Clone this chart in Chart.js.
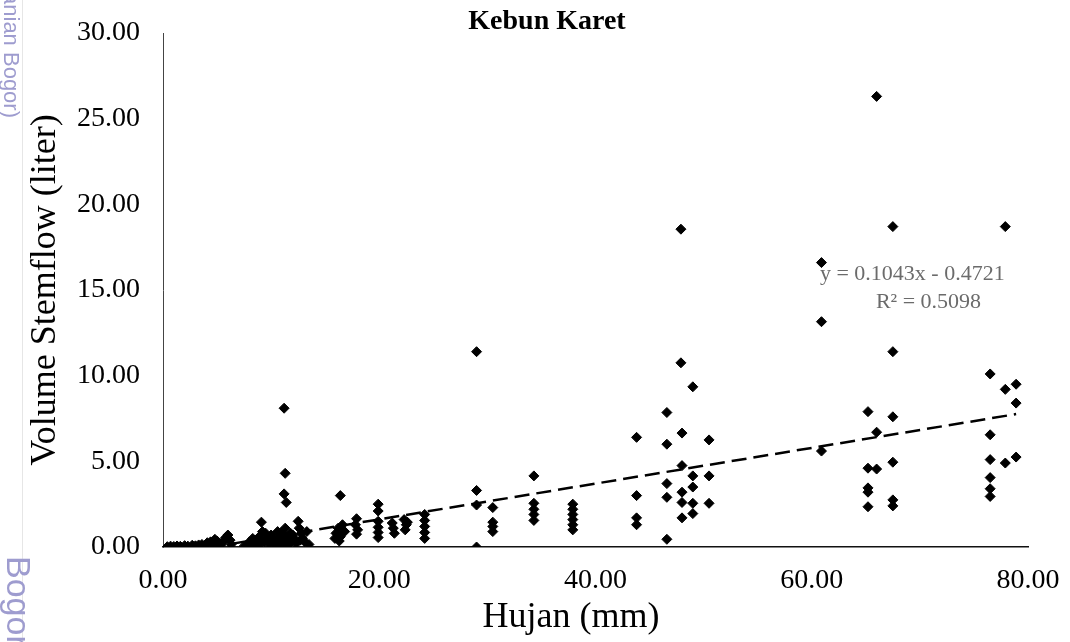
<!DOCTYPE html>
<html>
<head>
    <title>Kebun Karet - Stemflow vs Hujan</title>
    <script src="https://cdn.jsdelivr.net/npm/chart.js"></script>
    <style>
        body { margin: 0; background: #fff; }
        #wrap { width: 1070px; height: 642px; }
    </style>
</head>
<body>
    <div id="wrap"><canvas id="stemflowChart"></canvas></div>
    <script>
        // rainfall (mm) and stemflow volume (liter)
        const hujan = [
            0.4, 0.7, 1.0, 1.3, 1.6, 2.0, 2.3, 2.7, 3.0, 3.3, 3.6, 3.9, 4.1, 4.4, 4.6, 4.8, 5.0, 5.3, 5.6, 5.8, 6.0, 6.2, 6.3,
            7.5, 7.9, 8.2, 8.5, 8.7, 8.9, 9.1, 9.2, 9.4, 9.6, 9.8, 10.0, 10.3, 10.5, 10.7, 10.9, 11.0,
            11.2, 11.3, 11.2, 11.4, 11.3, 11.5, 11.6, 11.4, 11.8, 12.2, 12.5, 12.6, 12.8, 12.9, 13.1, 13.3, 13.5,
            8.0, 8.3, 9.0, 9.5, 10.1, 10.6, 11.1, 11.7, 12.0, 12.3, 12.7,
            16.4, 15.9, 16.0, 16.2, 16.4, 16.6, 16.3, 16.8,
            17.9, 17.8, 18.0, 17.9,
            19.9, 19.9, 19.9, 19.9, 19.9, 19.9,
            21.2, 21.3, 21.4,
            22.3, 22.5, 22.4, 22.6,
            24.2, 24.2, 24.2, 24.2, 24.2,
            29.0, 29.0, 29.0, 29.0,
            30.5, 30.5, 30.5, 30.5,
            34.3, 34.3, 34.3, 34.3, 34.3,
            37.9, 37.9, 37.9, 37.9, 37.9, 37.9,
            43.8, 43.8, 43.8, 43.8,
            46.6, 46.6, 46.6, 46.6, 46.6,
            47.9, 47.9, 48.0, 48.0, 48.0, 48.0, 48.0,
            49.0, 49.0, 49.0, 49.0, 49.0,
            50.5, 50.5, 50.5,
            60.9, 60.9, 60.9,
            65.2, 65.2, 65.2, 65.2, 65.2,
            66.0, 66.0, 66.0,
            67.5, 67.5, 67.5, 67.5, 67.5, 67.5,
            76.5, 76.5, 76.5, 76.5, 76.5, 76.5,
            77.9, 77.9, 77.9,
            78.9, 78.9, 78.9
        ];
        const stemflow = [
            0.02, 0.05, 0.03, 0.06, 0.04, 0.08, 0.05, 0.1, 0.07, 0.12, 0.15, 0.1, 0.25, 0.3, 0.18, 0.45, 0.35, 0.2, 0.3, 0.55, 0.7, 0.4, 0.15,
            0.05, 0.1, 0.2, 0.4, 0.15, 0.6, 1.45, 0.9, 0.3, 0.5, 0.2, 0.7, 0.4, 0.1, 0.55, 0.25, 0.85,
            8.1, 4.3, 3.1, 2.6, 1.1, 0.6, 0.3, 0.05, 0.8, 0.45, 1.5, 1.1, 0.8, 0.5, 0.3, 0.9, 0.15,
            0.3, 0.5, 0.2, 0.8, 0.3, 0.9, 0.4, 0.2, 0.7, 0.2, 0.4,
            3.0, 0.5, 0.8, 1.1, 0.6, 1.3, 0.35, 0.9,
            1.65, 1.3, 1.0, 0.75,
            2.5, 2.1, 1.5, 1.15, 0.85, 0.55,
            1.4, 1.1, 0.8,
            1.6, 1.3, 1.0, 1.45,
            1.9, 1.55, 1.2, 0.85, 0.5,
            11.4, 3.3, 2.45, 0.0,
            2.3, 1.45, 1.2, 0.9,
            4.15, 2.55, 2.2, 1.9, 1.55,
            2.5, 2.2, 1.9, 1.6, 1.3, 1.0,
            6.4, 3.0, 1.7, 1.3,
            7.85, 6.0, 3.7, 2.9, 0.45,
            18.55, 10.75, 6.65, 4.75, 3.2, 2.6, 1.7,
            9.35, 4.15, 3.5, 2.55, 1.95,
            6.25, 4.15, 2.55,
            16.6, 13.15, 5.6,
            7.9, 4.6, 3.45, 3.2, 2.35,
            26.3, 6.7, 4.55,
            18.7, 11.4, 7.6, 4.95, 2.75, 2.4,
            10.1, 6.55, 5.1, 4.05, 3.4, 2.95,
            18.7, 9.2, 4.9,
            9.5, 8.4, 5.25
        ];

        // linear trendline as printed on the figure
        const slope = 0.1043;
        const intercept = -0.4721;
        const rSquared = 0.5098;
        const trendX = [0.4, 78.9];

        const serif = "'Liberation Serif', 'Times New Roman', serif";

        const points = hujan.map((x, i) => ({ x: x, y: stemflow[i] }));
        const trend = trendX.map(x => ({ x: x, y: slope * x + intercept }));

        // title, x title, equation label and the faint watermark on the left edge
        const extras = {
            id: 'extras',
            beforeDraw(chart) {
                const ctx = chart.ctx;
                ctx.save();
                ctx.strokeStyle = '#e6e6e6';
                ctx.lineWidth = 1;
                ctx.beginPath();
                ctx.moveTo(22.5, 0);
                ctx.lineTo(22.5, 642);
                ctx.stroke();
                ctx.fillStyle = '#9e9ccf';
                ctx.translate(10, 0);
                ctx.rotate(Math.PI / 2);
                ctx.textBaseline = 'middle';
                ctx.textAlign = 'right';
                ctx.font = "22px 'Liberation Sans', Arial, sans-serif";
                ctx.fillText('Institut Pertanian Bogor)', 118, 0);
                ctx.textAlign = 'left';
                ctx.font = "34px 'Liberation Sans', Arial, sans-serif";
                ctx.fillText('Bogor', 556, -6);
                ctx.restore();
            },
            afterDraw(chart) {
                const ctx = chart.ctx;
                const xs = chart.scales.x;
                const ys = chart.scales.y;
                ctx.save();
                ctx.fillStyle = '#000';
                ctx.textAlign = 'center';
                ctx.textBaseline = 'middle';
                ctx.font = 'bold 28px ' + serif;
                ctx.fillText('Kebun Karet', 547, 22);
                ctx.font = '36px ' + serif;
                ctx.fillText('Hujan (mm)', 571, 618);
                ctx.fillStyle = '#6b6b6b';
                ctx.font = '22px ' + serif;
                ctx.fillText('y = ' + slope + 'x - ' + Math.abs(intercept), xs.getPixelForValue(69.3), ys.getPixelForValue(15.9));
                ctx.fillText('R\u00b2 = ' + rSquared, xs.getPixelForValue(70.8), ys.getPixelForValue(14.3));
                ctx.restore();
            }
        };

        const ctx = document.getElementById('stemflowChart').getContext('2d');
        const stemflowChart = new Chart(ctx, {
            type: 'scatter',
            data: {
                datasets: [{
                    label: 'Stemflow',
                    data: points,
                    pointStyle: 'rectRot',
                    pointRadius: 5,
                    pointBorderWidth: 1,
                    backgroundColor: '#000',
                    borderColor: '#000',
                    order: 0
                }, {
                    type: 'line',
                    label: 'Trendline',
                    data: trend,
                    borderColor: '#000',
                    borderWidth: 2.5,
                    borderDash: [15, 7],
                    pointRadius: 0,
                    fill: false,
                    clip: 0,
                    order: 1
                }]
            },
            options: {
                responsive: true,
                maintainAspectRatio: false,
                animation: false,
                layout: {
                    padding: { top: 33, right: 42, bottom: 0, left: 0 }
                },
                plugins: {
                    legend: { display: false },
                    tooltip: { enabled: false },
                    title: { display: false }
                },
                scales: {
                    x: {
                        type: 'linear',
                        min: 0,
                        max: 80,
                        grid: { display: false, drawTicks: false },
                        border: { display: true, color: '#111', width: 1.5 },
                        ticks: {
                            stepSize: 20,
                            padding: 17,
                            color: '#000',
                            font: { family: serif, size: 28 },
                            callback: v => v.toFixed(2)
                        },
                        afterFit: scale => {
                            scale.height = 95;
                            scale.paddingLeft = 0;
                            scale.paddingRight = 0;
                        }
                    },
                    y: {
                        min: 0,
                        max: 30,
                        grid: { display: false, drawTicks: false },
                        border: { display: true, color: '#444', width: 1 },
                        ticks: {
                            stepSize: 5,
                            padding: 23,
                            color: '#000',
                            font: { family: serif, size: 28 },
                            callback: v => v.toFixed(2)
                        },
                        title: {
                            display: true,
                            text: 'Volume Stemflow (liter)',
                            color: '#000',
                            font: { family: serif, size: 36 },
                            padding: { top: 24, bottom: 0 }
                        },
                        afterFit: scale => {
                            scale.width = 163;
                            scale.paddingTop = 0;
                            scale.paddingBottom = 0;
                        }
                    }
                }
            },
            plugins: [extras]
        });
    </script>
</body>
</html>
